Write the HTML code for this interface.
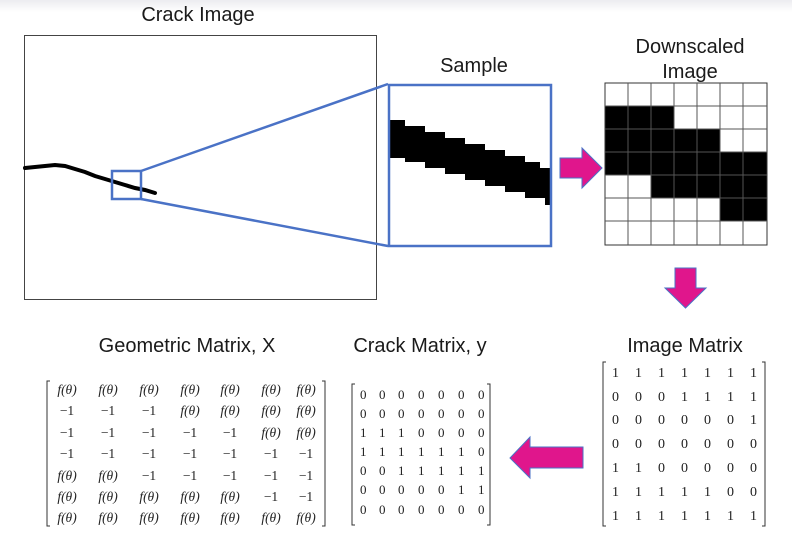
<!DOCTYPE html>
<html><head><meta charset="utf-8"><style>
html,body{margin:0;padding:0;background:#fff}
svg{display:block}
.l{font-family:"Liberation Sans",sans-serif;font-size:20px;fill:#1a1a1a}
.m{font-family:"Liberation Serif",serif;font-size:14px;fill:#222}
.g{font-family:"Liberation Serif",serif;font-size:13.5px;fill:#222;font-style:italic}
.n{font-family:"Liberation Serif",serif;font-size:13px;fill:#222}
</style></head><body>
<svg width="792" height="537" viewBox="0 0 792 537" xmlns="http://www.w3.org/2000/svg">
<defs><linearGradient id="tg" x1="0" y1="0" x2="0" y2="1"><stop offset="0" stop-color="#ececf0"/><stop offset="1" stop-color="#fff"/></linearGradient></defs>
<rect x="0" y="0" width="792" height="12" fill="url(#tg)"/>
<text class="l" x="198" y="21" text-anchor="middle">Crack Image</text>
<rect x="24.5" y="35.5" width="352" height="264" fill="#fff" stroke="#444" stroke-width="1"/>
<polyline points="25,168 35,167 45,166 55,165 65,166 75,169 85,172 95,176 105,179 115,182 125,185 135,188 145,190 155,193" fill="none" stroke="#000" stroke-width="4" stroke-linecap="round"/>
<line x1="141" y1="171" x2="388" y2="84" stroke="#4a72c6" stroke-width="2.5"/>
<line x1="141" y1="199" x2="388" y2="246" stroke="#4a72c6" stroke-width="2.5"/>
<rect x="112" y="171" width="29" height="28" fill="none" stroke="#4a72c6" stroke-width="2.5"/>
<text class="l" x="474" y="72" text-anchor="middle">Sample</text>
<rect x="389" y="84" width="162" height="162" fill="#fff"/>
<polygon points="390,120 405,120 405,126 425,126 425,132 445,132 445,138 465,138 465,144 485,144 485,150 505,150 505,156 525,156 525,162 540,162 540,168 551,168 551,205 545,205 545,198 525,198 525,192 505,192 505,186 485,186 485,180 465,180 465,174 445,174 445,168 425,168 425,162 405,162 405,158 390,158" fill="#000"/>
<rect x="389" y="85" width="162" height="161" fill="none" stroke="#4a72c6" stroke-width="2.5"/>
<polygon points="560,158 582,158 582,148 602,168 582,188 582,178 560,178" fill="#e0168c" stroke="#4a72c6" stroke-width="1"/>
<text class="l" x="690" y="53" text-anchor="middle">Downscaled</text>
<text class="l" x="690" y="78" text-anchor="middle">Image</text>
<g fill="#000">
<rect x="605" y="106" width="69" height="23"/><rect x="605" y="129" width="115" height="23"/><rect x="605" y="152" width="162" height="23"/><rect x="651" y="175" width="116" height="23"/><rect x="720" y="198" width="47" height="23"/>
</g>
<g stroke="#333" stroke-width="1" fill="none">
<rect x="605" y="83" width="162" height="162"/>
<path d="M628 83V245M651 83V245M674 83V245M697 83V245M720 83V245M743 83V245M605 106H767M605 129H767M605 152H767M605 175H767M605 198H767M605 221H767" stroke="#555"/>
</g>
<polygon points="675,268 696,268 696,288 706,288 685.5,308 665,288 675,288" fill="#e0168c" stroke="#4a72c6" stroke-width="1"/>
<text class="l" x="685" y="352" text-anchor="middle">Image Matrix</text>
<path d="M606 362H603V526H606M762 362H765V526H762" fill="none" stroke="#333" stroke-width="1"/>
<g class="m">
<text x="612 635 658 681 704 727 750" y="377">1111111</text>
<text x="612 635 658 681 704 727 750" y="401">0001111</text>
<text x="612 635 658 681 704 727 750" y="424">0000001</text>
<text x="612 635 658 681 704 727 750" y="448">0000000</text>
<text x="612 635 658 681 704 727 750" y="472">1100000</text>
<text x="612 635 658 681 704 727 750" y="496">1111100</text>
<text x="612 635 658 681 704 727 750" y="520">1111111</text>
</g>
<polygon points="583,447 530,447 530,437 510,458 530,478 530,468 583,468" fill="#e0168c" stroke="#4a72c6" stroke-width="1"/>
<text class="l" x="420" y="352" text-anchor="middle">Crack Matrix, y</text>
<path d="M355 384H352V525H355M487 384H490V525H487" fill="none" stroke="#333" stroke-width="1"/>
<g class="n">
<text x="360 379 398 418 438 458 478" y="399">0000000</text>
<text x="360 379 398 418 438 458 478" y="418">0000000</text>
<text x="360 379 398 418 438 458 478" y="437">1110000</text>
<text x="360 379 398 418 438 458 478" y="456">1111110</text>
<text x="360 379 398 418 438 458 478" y="475">0011111</text>
<text x="360 379 398 418 438 458 478" y="494">0000011</text>
<text x="360 379 398 418 438 458 478" y="514">0000000</text>
</g>
<text class="l" x="187" y="352" text-anchor="middle">Geometric Matrix, X</text>
<path d="M50 381H47V526H50M322 381H325V526H322" fill="none" stroke="#333" stroke-width="1"/>
<g class="g" text-anchor="middle">
<text x="67" y="394">f(θ)</text><text x="108" y="394">f(θ)</text><text x="149" y="394">f(θ)</text><text x="190" y="394">f(θ)</text><text x="230" y="394">f(θ)</text><text x="271" y="394">f(θ)</text><text x="306" y="394">f(θ)</text>
<text x="67" y="415" font-style="normal">−1</text><text x="108" y="415" font-style="normal">−1</text><text x="149" y="415" font-style="normal">−1</text><text x="190" y="415">f(θ)</text><text x="230" y="415">f(θ)</text><text x="271" y="415">f(θ)</text><text x="306" y="415">f(θ)</text>
<text x="67" y="437" font-style="normal">−1</text><text x="108" y="437" font-style="normal">−1</text><text x="149" y="437" font-style="normal">−1</text><text x="190" y="437" font-style="normal">−1</text><text x="230" y="437" font-style="normal">−1</text><text x="271" y="437">f(θ)</text><text x="306" y="437">f(θ)</text>
<text x="67" y="458" font-style="normal">−1</text><text x="108" y="458" font-style="normal">−1</text><text x="149" y="458" font-style="normal">−1</text><text x="190" y="458" font-style="normal">−1</text><text x="230" y="458" font-style="normal">−1</text><text x="271" y="458" font-style="normal">−1</text><text x="306" y="458" font-style="normal">−1</text>
<text x="67" y="480">f(θ)</text><text x="108" y="480">f(θ)</text><text x="149" y="480" font-style="normal">−1</text><text x="190" y="480" font-style="normal">−1</text><text x="230" y="480" font-style="normal">−1</text><text x="271" y="480" font-style="normal">−1</text><text x="306" y="480" font-style="normal">−1</text>
<text x="67" y="501">f(θ)</text><text x="108" y="501">f(θ)</text><text x="149" y="501">f(θ)</text><text x="190" y="501">f(θ)</text><text x="230" y="501">f(θ)</text><text x="271" y="501" font-style="normal">−1</text><text x="306" y="501" font-style="normal">−1</text>
<text x="67" y="522">f(θ)</text><text x="108" y="522">f(θ)</text><text x="149" y="522">f(θ)</text><text x="190" y="522">f(θ)</text><text x="230" y="522">f(θ)</text><text x="271" y="522">f(θ)</text><text x="306" y="522">f(θ)</text>
</g>
</svg>
</body></html>
